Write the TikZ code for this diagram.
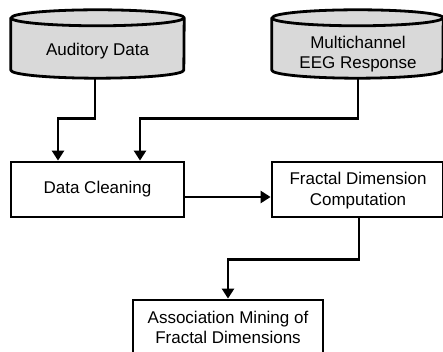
\documentclass[tikz,border=0pt]{standalone}
\usepackage{fontspec}
\setmainfont{Liberation Sans}
\usetikzlibrary{arrows.meta}
\begin{document}
\begin{tikzpicture}[x=1pt,y=1pt,
  lw/.style={line width=2.8pt},
  box/.style={draw,lw,fill=white,inner sep=0pt,align=center},
  txt/.style={inner sep=0pt,align=center,font=\fontsize{17}{20.5}\selectfont},
  cylfill/.style={fill=black!15,draw,lw,line join=round},
  arr/.style={lw,-{Triangle[width=12pt,length=10pt]}}]
\useasboundingbox (0,0) rectangle (443,352);
% cylinders (frames)
\node[inner sep=0pt,minimum width=173,minimum height=68] (cyl1) at (97.5,308) {};
\node[inner sep=0pt,minimum width=171,minimum height=68] (cyl2) at (357.5,308) {};
\foreach \c/\r in {cyl1/86.5,cyl2/85.5}{
  \draw[cylfill] ([yshift=-8]\c.north west) -- ([yshift=8]\c.south west)
    arc[start angle=180,end angle=360,x radius=\r,y radius=8]
    -- ([yshift=-8]\c.north east)
    arc[start angle=0,end angle=180,x radius=\r,y radius=8] -- cycle;
  \draw[lw] ([yshift=-8]\c.north west) arc[start angle=180,end angle=360,x radius=\r,y radius=8];
}
\node[txt] (t1) at (97.5,301) {Auditory Data};
\node[txt] (t2) at (358,298) {Multichannel\\EEG Response};
% boxes
\node[box,minimum width=173,minimum height=55] (clean) at (97.5,162.5) {};
\node[txt] at (clean.center) {Data Cleaning};
\node[box,minimum width=171,minimum height=55] (frac) at (357.5,162.5) {};
\node[txt] at (358,161.5) {Fractal Dimension\\Computation};
\node[box,minimum width=190,minimum height=54] (assoc) at (228,25) {};
\node[txt] at (228,24.5) {Association Mining of\\Fractal Dimensions};
% connectors
\draw[arr] ([xshift=-2.5]cyl1.south) -- ++(0,-40) -| ([xshift=-39.5]clean.north);
\draw[arr] ([xshift=0.5]cyl2.south) -- ++(0,-40) -| ([xshift=42.5]clean.north);
\draw[arr] ([yshift=-7.5]clean.east) -- ([yshift=-7.5]frac.west);
\draw[arr] ([xshift=1.5]frac.south) -- ++(0,-41) -| (assoc.north);
\end{tikzpicture}
\end{document}
